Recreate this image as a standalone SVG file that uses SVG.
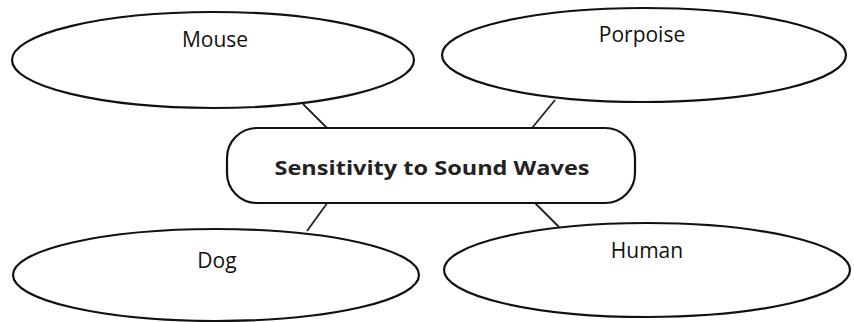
<svg xmlns="http://www.w3.org/2000/svg" width="854" height="322" viewBox="0 0 854 322">
<style>
.shape{fill:#fff;stroke:#111;stroke-width:2.2}
.conn{stroke:#222;stroke-width:1.8;fill:none}
.lbl{font-family:"Open Sans","Noto Sans",sans-serif;font-size:21px;fill:#111;text-anchor:middle}
.title{font-family:"Open Sans","Noto Sans",sans-serif;font-size:20px;font-weight:bold;fill:#222;text-anchor:middle}
</style>
<rect width="854" height="322" fill="#fff"/>
<g id="connectors">
<line class="conn" x1="303" y1="104" x2="328" y2="129"/>
<line class="conn" x1="555" y1="100" x2="532" y2="128"/>
<line class="conn" x1="328" y1="202" x2="307" y2="231"/>
<line class="conn" x1="534" y1="202" x2="559" y2="227"/>
</g>
<g id="mouse">
<ellipse class="shape" cx="213" cy="60" rx="201" ry="48"/>
<text class="lbl" x="215" y="47">Mouse</text>
</g>
<g id="porpoise">
<ellipse class="shape" cx="644" cy="55" rx="202" ry="47"/>
<text class="lbl" x="642" y="42">Porpoise</text>
</g>
<g id="center">
<rect class="shape" x="227" y="128" width="408" height="75" rx="30" ry="30"/>
<text class="title" x="432" y="175" textLength="315" lengthAdjust="spacingAndGlyphs">Sensitivity to Sound Waves</text>
</g>
<g id="dog">
<ellipse class="shape" cx="216" cy="275" rx="203" ry="46"/>
<text class="lbl" x="217" y="268">Dog</text>
</g>
<g id="human">
<ellipse class="shape" cx="647" cy="270" rx="203" ry="47"/>
<text class="lbl" x="647" y="258">Human</text>
</g>
</svg>
